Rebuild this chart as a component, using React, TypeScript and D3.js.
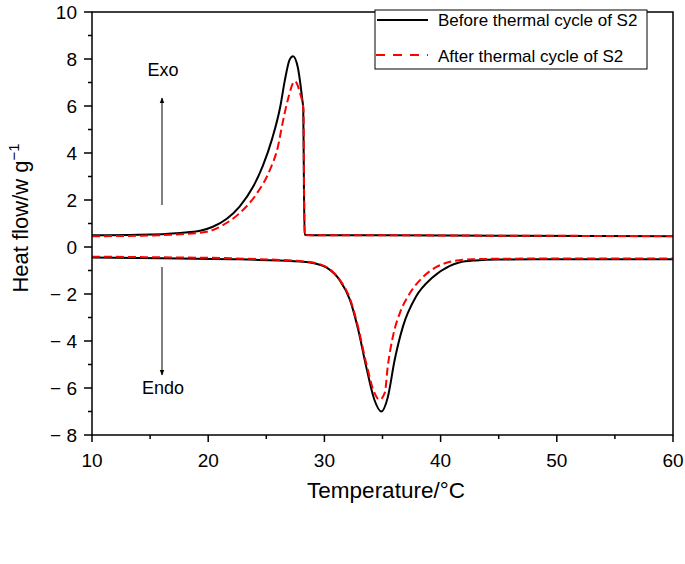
import React from "react";
import * as d3 from "d3";

// Cooling (exothermic) curves
const beforeCoolT = [10, 14, 17.6, 19.3, 20.4, 21.6, 22.7, 23.85, 24.7, 25.5, 26.2, 26.6, 27.0, 27.3, 27.7, 28.1, 28.18, 28.24, 28.3, 29, 35, 45, 60];
const beforeCoolV = [0.5, 0.52, 0.6, 0.69, 0.86, 1.2, 1.72, 2.55, 3.45, 4.6, 5.97, 7.1, 7.96, 8.12, 7.67, 6.26, 5.9, 2.5, 0.52, 0.5, 0.5, 0.48, 0.46];
const afterCoolT = [10, 14, 17.6, 19.9, 21.3, 22.7, 24.2, 25.3, 26.0, 26.4, 26.85, 27.45, 27.9, 28.2, 28.25, 28.3, 29, 35, 45, 60];
const afterCoolV = [0.46, 0.48, 0.54, 0.65, 0.94, 1.44, 2.29, 3.27, 4.27, 5.27, 6.26, 7.05, 6.55, 5.83, 2.5, 0.5, 0.5, 0.5, 0.48, 0.47];

// Heating (endothermic) curves
const beforeHeatT = [10, 16, 22, 24.45, 27.9, 29.2, 30.2, 31.3, 32.2, 32.9, 33.6, 34.3, 34.9, 35.45, 36.05, 36.75, 37.9, 39.3, 40.8, 41.6, 43, 45, 50, 60];
const beforeHeatV = [-0.45, -0.48, -0.52, -0.55, -0.62, -0.7, -0.88, -1.4, -2.25, -3.5, -5.1, -6.5, -7.0, -6.4, -4.8, -3.4, -2.1, -1.3, -0.8, -0.66, -0.57, -0.53, -0.52, -0.52];
const afterHeatT = [10, 16, 22, 24.45, 27.9, 29.2, 30.2, 31.3, 32.2, 32.9, 33.6, 34.3, 34.75, 35.2, 35.45, 35.9, 36.5, 37.35, 38.5, 39.65, 40.8, 41.6, 43, 45, 50, 60];
const afterHeatV = [-0.41, -0.44, -0.48, -0.52, -0.6, -0.68, -0.86, -1.38, -2.2, -3.4, -4.95, -6.2, -6.5, -6.2, -5.1, -3.8, -2.8, -1.97, -1.27, -0.85, -0.63, -0.56, -0.52, -0.5, -0.49, -0.49];

const xTicks = [10, 20, 30, 40, 50, 60];
const xMinor = [15, 25, 35, 45, 55];
const yTicks = [10, 8, 6, 4, 2, 0, -2, -4, -6, -8];
const yMinor = [9, 7, 5, 3, 1, -1, -3, -5, -7];
const legendLabels = ["Before thermal cycle of S2", "After thermal cycle of S2"];

const W = 685;
const H = 564;
const L = 92, R = 673, T = 12, B = 435;
const FONT = "Liberation Sans, Arial, Helvetica, sans-serif";

export default function App() {
  const x = d3.scaleLinear().domain([10, 60]).range([L, R]);
  const y = d3.scaleLinear().domain([-8, 10]).range([B, T]);
  const line = d3
    .line<[number, number]>()
    .x((d) => x(d[0]))
    .y((d) => y(d[1]))
    .curve(d3.curveMonotoneX);
  const zip = (a: number[], b: number[]) => a.map((t, i) => [t, b[i]] as [number, number]);

  const fmt = (v: number) => (v < 0 ? "\u2212 " + Math.abs(v) : String(v));

  return (
    <svg width={W} height={H} style={{ position: "absolute", left: 0, top: 0 }} fontFamily={FONT}>
      <defs>
        <clipPath id="plot">
          <rect x={L} y={T} width={R - L} height={B - T} />
        </clipPath>
        <marker id="arr" viewBox="0 0 10 10" refX="9" refY="5" markerWidth="6" markerHeight="8" orient="auto" markerUnits="userSpaceOnUse">
          <path d="M0,1 L10,5 L0,9 z" fill="#000" />
        </marker>
      </defs>
      <rect x={0} y={0} width={W} height={H} fill="#fff" />

      <g clipPath="url(#plot)" fill="none" strokeWidth={2}>
        <path d={line(zip(beforeCoolT, beforeCoolV)) || ""} stroke="#000" />
        <path d={line(zip(beforeHeatT, beforeHeatV)) || ""} stroke="#000" />
        <path d={line(zip(afterCoolT, afterCoolV)) || ""} stroke="#ff0000" strokeDasharray="8,4" />
        <path d={line(zip(afterHeatT, afterHeatV)) || ""} stroke="#ff0000" strokeDasharray="8,4" />
      </g>

      {/* frame */}
      <rect x={L} y={T} width={R - L} height={B - T} fill="none" stroke="#000" strokeWidth={1.5} />

      {/* x ticks */}
      {xTicks.map((t) => (
        <g key={"xt" + t}>
          <line x1={x(t)} x2={x(t)} y1={B} y2={B + 7} stroke="#000" strokeWidth={1.5} />
          <text x={x(t)} y={B + 32} textAnchor="middle" fontSize={19}>{t}</text>
        </g>
      ))}
      {xMinor.map((t) => (
        <line key={"xm" + t} x1={x(t)} x2={x(t)} y1={B} y2={B + 4} stroke="#000" strokeWidth={1.5} />
      ))}

      {/* y ticks */}
      {yTicks.map((t) => (
        <g key={"yt" + t}>
          <line x1={L - 8} x2={L} y1={y(t)} y2={y(t)} stroke="#000" strokeWidth={1.5} />
          <text x={L - 15} y={y(t) + 7} textAnchor="end" fontSize={19}>{fmt(t)}</text>
        </g>
      ))}
      {yMinor.map((t) => (
        <line key={"ym" + t} x1={L - 4} x2={L} y1={y(t)} y2={y(t)} stroke="#000" strokeWidth={1.5} />
      ))}

      {/* axis titles */}
      <text x={386} y={498} textAnchor="middle" fontSize={22.5}>Temperature/°C</text>
      <text transform={`translate(28,${218}) rotate(-90)`} textAnchor="middle" fontSize={22}>
        Heat flow/w g<tspan dy={-9} fontSize={15}>−1</tspan>
      </text>

      {/* legend */}
      <rect x={375} y={10} width={272} height={59} fill="#fff" stroke="#000" strokeWidth={1} />
      <line x1={377} x2={428} y1={20} y2={20} stroke="#000" strokeWidth={2} />
      <text x={438} y={26} fontSize={17}>{legendLabels[0]}</text>
      <line x1={376} x2={428} y1={55} y2={55} stroke="#ff0000" strokeWidth={2} strokeDasharray="9,8" />
      <text x={438} y={62} fontSize={17}>{legendLabels[1]}</text>

      {/* Exo / Endo annotations */}
      <text x={163} y={76} textAnchor="middle" fontSize={18}>Exo</text>
      <line x1={162} x2={162} y1={205} y2={98} stroke="#000" strokeWidth={1} markerEnd="url(#arr)" />
      <line x1={162} x2={162} y1={267} y2={375} stroke="#000" strokeWidth={1} markerEnd="url(#arr)" />
      <text x={163} y={394} textAnchor="middle" fontSize={18}>Endo</text>
    </svg>
  );
}
